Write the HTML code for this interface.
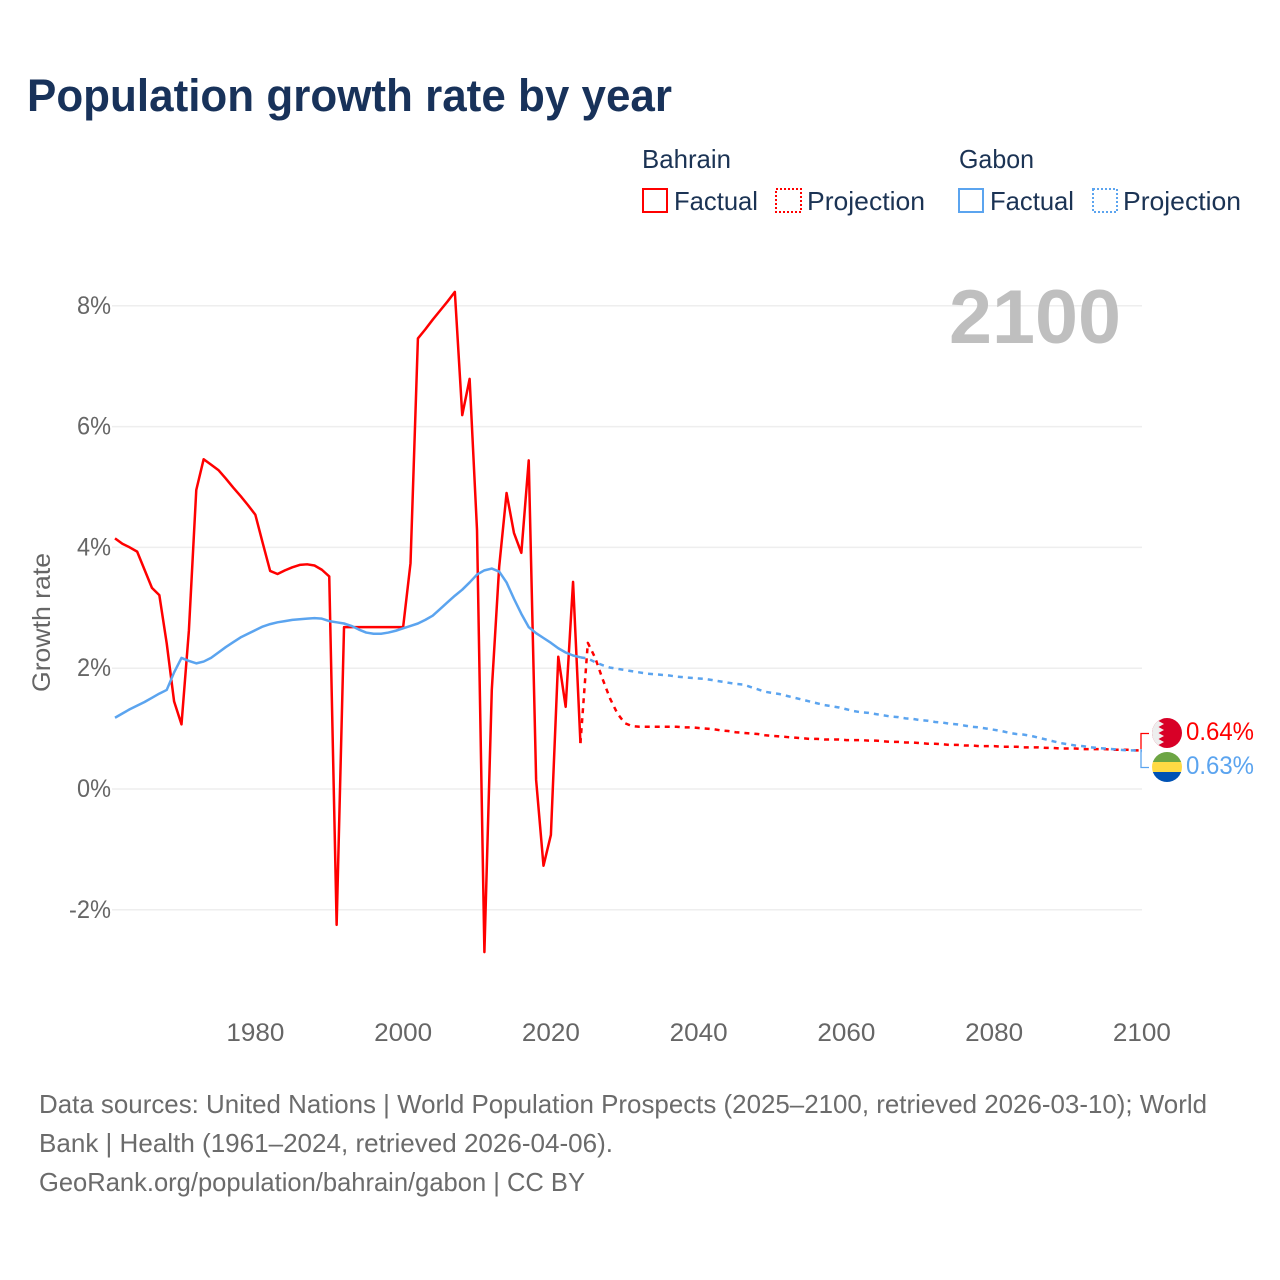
<!DOCTYPE html>
<html lang="en">
<head>
<meta charset="utf-8">
<title>Population growth rate by year</title>
<style>
html,body{margin:0;padding:0;background:#fff;}
svg{display:block;font-family:"Liberation Sans",sans-serif;}
</style>
</head>
<body>
<svg id="chart" xmlns="http://www.w3.org/2000/svg" width="1280" height="1280" viewBox="0 0 1280 1280">
  <rect x="0" y="0" width="1280" height="1280" fill="#ffffff"/>
  <text x="27" y="111" font-size="45" font-weight="700" fill="#18325a" textLength="645" lengthAdjust="spacingAndGlyphs">Population growth rate by year</text>

  <g font-size="26" fill="#1b3354">
    <text x="642" y="168" textLength="89" lengthAdjust="spacingAndGlyphs">Bahrain</text>
    <text x="959" y="168" textLength="75" lengthAdjust="spacingAndGlyphs">Gabon</text>
    <rect x="643" y="189" width="24" height="23" fill="none" stroke="#ff0000" stroke-width="2"/>
    <text x="674" y="210" textLength="84" lengthAdjust="spacingAndGlyphs">Factual</text>
    <rect x="776" y="189" width="25" height="23" fill="none" stroke="#ff0000" stroke-width="2" stroke-dasharray="2 2"/>
    <text x="807" y="210" textLength="118" lengthAdjust="spacingAndGlyphs">Projection</text>
    <rect x="959" y="189" width="24" height="23" fill="none" stroke="#5ba4ef" stroke-width="2"/>
    <text x="990" y="210" textLength="84" lengthAdjust="spacingAndGlyphs">Factual</text>
    <rect x="1093" y="189" width="24" height="23" fill="none" stroke="#5ba4ef" stroke-width="2" stroke-dasharray="2 2"/>
    <text x="1123" y="210" textLength="118" lengthAdjust="spacingAndGlyphs">Projection</text>
  </g>

  <g id="grid"></g>
  <text x="949" y="343" font-size="76" font-weight="700" fill="#bfbfbf" textLength="172" lengthAdjust="spacingAndGlyphs">2100</text>
  <g id="yticks" font-size="25" fill="#666666" text-anchor="end"></g>
  <g id="xticks" font-size="25" fill="#666666" text-anchor="middle"></g>
  <text transform="translate(50,692) rotate(-90)" font-size="25" fill="#666666" textLength="139" lengthAdjust="spacingAndGlyphs">Growth rate</text>
  <g id="series" fill="none" stroke-width="2.500" stroke-linejoin="round"></g>

  <g>
    <path d="M1141 749V733.500H1149" fill="none" stroke="#ff0000" stroke-width="1.300"/>
    <path d="M1141 749V767.500H1149" fill="none" stroke="#5ba4ef" stroke-width="1.300"/>
    <clipPath id="flagA"><circle cx="1167" cy="733" r="15"/></clipPath>
    <clipPath id="flagB"><circle cx="1167" cy="767" r="15"/></clipPath>
    <g clip-path="url(#flagA)">
      <rect x="1152" y="718" width="30" height="30" fill="#d80027"/>
      <path d="M1152 718H1164L1158.500 721 1164 724 1158.500 727 1164 730 1158.500 733 1164 736 1158.500 739 1164 742 1158.500 745 1164 748H1152Z" fill="#eeeeee"/>
    </g>
    <g clip-path="url(#flagB)">
      <rect x="1152" y="752" width="30" height="10" fill="#6da544"/>
      <rect x="1152" y="762" width="30" height="10" fill="#ffda44"/>
      <rect x="1152" y="772" width="30" height="10" fill="#0052b4"/>
    </g>
    <text x="1186" y="740" font-size="25" fill="#ff0000" textLength="68" lengthAdjust="spacingAndGlyphs">0.64%</text>
    <text x="1186" y="774" font-size="25" fill="#5ba4ef" textLength="68" lengthAdjust="spacingAndGlyphs">0.63%</text>
  </g>

  <g font-size="26" fill="#6b6b6b">
    <text x="39" y="1113" textLength="1168" lengthAdjust="spacingAndGlyphs">Data sources: United Nations | World Population Prospects (2025–2100, retrieved 2026-03-10); World</text>
    <text x="39" y="1152" textLength="574" lengthAdjust="spacingAndGlyphs">Bank | Health (1961–2024, retrieved 2026-04-06).</text>
    <text x="39" y="1191" textLength="546" lengthAdjust="spacingAndGlyphs">GeoRank.org/population/bahrain/gabon | CC BY</text>
  </g>
</svg>
<script>
const yTickValues = [8, 6, 4, 2, 0, -2];
const xTickYears = [1980, 2000, 2020, 2040, 2060, 2080, 2100];
const factualStartYear = 1961;
const projectionStartYear = 2024;
const bahrainFactual = [4.15,4.06,4.00,3.93,3.63,3.33,3.21,2.41,1.45,1.07,2.62,4.95,5.46,5.37,5.28,5.14,4.99,4.85,4.70,4.54,4.07,3.61,3.56,3.62,3.67,3.71,3.72,3.70,3.63,3.52,-2.25,2.68,2.68,2.68,2.68,2.68,2.68,2.68,2.68,2.68,3.74,7.46,7.61,7.77,7.92,8.07,8.23,6.19,6.79,4.29,-2.70,1.64,3.68,4.90,4.24,3.91,5.44,0.15,-1.27,-0.76,2.19,1.36,3.43,0.76];
const gabonFactual = [1.18,1.25,1.32,1.38,1.44,1.51,1.58,1.64,1.93,2.17,2.12,2.08,2.11,2.17,2.26,2.35,2.43,2.51,2.57,2.63,2.69,2.73,2.76,2.78,2.80,2.81,2.82,2.83,2.82,2.78,2.76,2.74,2.70,2.64,2.59,2.57,2.57,2.59,2.62,2.66,2.70,2.74,2.80,2.87,2.98,3.09,3.20,3.30,3.42,3.55,3.62,3.65,3.60,3.42,3.15,2.90,2.68,2.58,2.50,2.42,2.33,2.26,2.21,2.18];
const bahrainProjection = [0.76,2.42,2.17,1.82,1.50,1.25,1.09,1.04,1.03,1.03,1.03,1.03,1.03,1.03,1.02,1.02,1.01,1.00,0.99,0.97,0.96,0.94,0.93,0.92,0.91,0.89,0.88,0.87,0.86,0.85,0.84,0.83,0.83,0.82,0.82,0.82,0.81,0.81,0.81,0.80,0.80,0.79,0.78,0.78,0.77,0.77,0.76,0.75,0.75,0.74,0.73,0.73,0.72,0.72,0.71,0.71,0.71,0.70,0.70,0.70,0.69,0.69,0.69,0.68,0.68,0.67,0.67,0.67,0.66,0.66,0.66,0.66,0.65,0.65,0.65,0.64,0.64];
const gabonProjection = [2.18,2.16,2.10,2.05,2.01,1.99,1.97,1.95,1.93,1.91,1.90,1.89,1.88,1.86,1.85,1.84,1.83,1.82,1.80,1.78,1.76,1.74,1.73,1.69,1.65,1.61,1.59,1.57,1.54,1.51,1.48,1.45,1.42,1.39,1.37,1.35,1.32,1.29,1.27,1.26,1.24,1.22,1.20,1.19,1.17,1.16,1.14,1.13,1.11,1.10,1.08,1.07,1.05,1.03,1.02,1.00,0.98,0.96,0.93,0.91,0.90,0.88,0.85,0.82,0.79,0.76,0.74,0.72,0.71,0.69,0.68,0.67,0.66,0.65,0.64,0.64,0.63];

const SVGNS = 'http://www.w3.org/2000/svg';
function xScale(year) { return 115 + (year - 1961) * 7.388; }
function yScale(value) { return 789 - value * 60.4; }
function pathFrom(startYear, values) {
  return values.map(function (v, i) {
    return (i ? 'L' : 'M') + xScale(startYear + i).toFixed(2) + ' ' + yScale(v).toFixed(2);
  }).join('');
}

const grid = document.getElementById('grid');
const yticks = document.getElementById('yticks');
yTickValues.forEach(function (v) {
  const line = document.createElementNS(SVGNS, 'line');
  
  
  line.setAttribute('x1', 112);
  line.setAttribute('x2', 1142);
  line.setAttribute('y1', yScale(v));
  line.setAttribute('y2', yScale(v));
  line.setAttribute('stroke', '#eeeeee');
  line.setAttribute('stroke-width', '1.5');
  grid.appendChild(line);
  const label = document.createElementNS(SVGNS, 'text');
  
  
  label.setAttribute('x', 111);
  label.setAttribute('y', yScale(v) + 8);
  label.textContent = v + '%';
  label.setAttribute('textLength', v < 0 ? 42 : 34);
  label.setAttribute('lengthAdjust', 'spacingAndGlyphs');
  yticks.appendChild(label);
});

const xticks = document.getElementById('xticks');
xTickYears.forEach(function (year) {
  const label = document.createElementNS(SVGNS, 'text');
  
  
  label.setAttribute('x', xScale(year));
  label.setAttribute('y', 1041);
  label.textContent = year;
  label.setAttribute('textLength', 58);
  label.setAttribute('lengthAdjust', 'spacingAndGlyphs');
  xticks.appendChild(label);
});

const series = document.getElementById('series');

const bahrainFactualLine = document.createElementNS(SVGNS, 'path');


bahrainFactualLine.setAttribute('d', pathFrom(factualStartYear, bahrainFactual));
bahrainFactualLine.setAttribute('stroke', '#ff0000');
series.appendChild(bahrainFactualLine);

const bahrainProjectionLine = document.createElementNS(SVGNS, 'path');


bahrainProjectionLine.setAttribute('d', pathFrom(projectionStartYear, bahrainProjection));
bahrainProjectionLine.setAttribute('stroke', '#ff0000');
bahrainProjectionLine.setAttribute('stroke-dasharray', '5 5');
series.appendChild(bahrainProjectionLine);

const gabonFactualLine = document.createElementNS(SVGNS, 'path');


gabonFactualLine.setAttribute('d', pathFrom(factualStartYear, gabonFactual));
gabonFactualLine.setAttribute('stroke', '#5ba4ef');
series.appendChild(gabonFactualLine);

const gabonProjectionLine = document.createElementNS(SVGNS, 'path');


gabonProjectionLine.setAttribute('d', pathFrom(projectionStartYear, gabonProjection));
gabonProjectionLine.setAttribute('stroke', '#5ba4ef');
gabonProjectionLine.setAttribute('stroke-dasharray', '5 5');
series.appendChild(gabonProjectionLine);
</script>
</body>
</html>
